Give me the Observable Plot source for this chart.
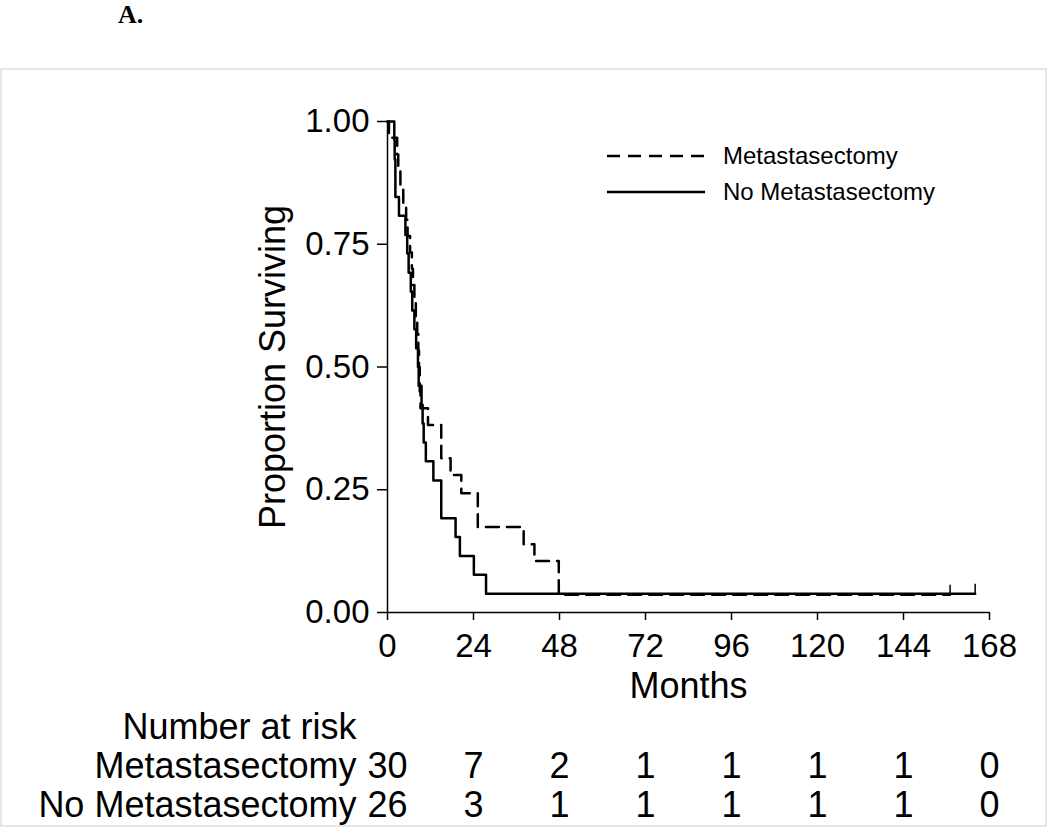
<!DOCTYPE html>
<html>
<head>
<meta charset="utf-8">
<script src="https://cdn.jsdelivr.net/npm/d3@7"></script>
<script src="https://cdn.jsdelivr.net/npm/@observablehq/plot@0.6"></script>
<style>
  html, body { margin: 0; padding: 0; background: #fff; }
  #wrap { position: relative; width: 1050px; height: 832px; overflow: hidden;
          font-family: "Liberation Sans", Arial, sans-serif; color: #000; }
  #panel { position: absolute; left: 118px; top: 1px; font-family: "Liberation Serif", "Times New Roman", serif;
           font-weight: bold; font-size: 26px; line-height: 28px; }
  #frame { position: absolute; left: 0; top: 68px; width: 1047px; height: 759px;
           border: 2px solid #e6e6e6; box-sizing: border-box; z-index: 5; pointer-events: none; }
  #main { position: absolute; left: 0; top: 0; }
  #risk { position: absolute; left: 0; top: 710px; }
  #legend { position: absolute; left: 607px; top: 138px; font-size: 24px; z-index: 3; }
  .lrow { display: flex; align-items: center; height: 36px; }
  .lrow svg { display: block; margin-right: 18px; }
</style>
</head>
<body>
<div id="wrap">
  <div id="panel">A.</div>
  <div id="main"></div>
  <div id="risk"></div>
  <div id="legend"></div>
  <div id="frame"></div>
</div>
<script>
// ---- Data ----
const xTicks = [0, 24, 48, 72, 96, 120, 144, 168];
const yTicks = [0, 0.25, 0.5, 0.75, 1];

const groups = ["Metastasectomy", "No Metastasectomy"];

// Kaplan–Meier step points: Metastasectomy (dashed)
const metTimes = [0, 0.4, 2.7, 3.0, 3.6, 4.4, 5.2, 5.6, 6.3, 6.8, 7.1, 7.5, 7.9, 8.3, 8.6, 8.8, 9.0, 9.2, 11.3, 15.0, 17.6, 20.6, 25.2, 38.0, 41.0, 47.8, 157];
const metSurv  = [1, 0.967, 0.933, 0.9, 0.867, 0.833, 0.8, 0.767, 0.733, 0.7, 0.667, 0.633, 0.6, 0.567, 0.533, 0.5, 0.45, 0.416, 0.382, 0.314, 0.28, 0.243, 0.174, 0.139, 0.105, 0.036, 0.036];

// Kaplan–Meier step points: No Metastasectomy (solid)
const noMetTimes = [0, 1.9, 2.0, 2.2, 3.2, 5.0, 5.5, 5.9, 6.5, 6.9, 7.5, 8.0, 8.5, 8.7, 9.5, 9.8, 10.1, 10.7, 12.8, 15.0, 19.0, 20.2, 24.1, 27.5, 164];
const noMetSurv  = [1, 0.962, 0.923, 0.846, 0.808, 0.769, 0.731, 0.692, 0.654, 0.615, 0.577, 0.538, 0.5, 0.462, 0.423, 0.385, 0.346, 0.308, 0.269, 0.192, 0.154, 0.115, 0.077, 0.038, 0.038];

// Censoring marks (last follow-up)
const censorTimes = [157, 164];
const censorSurv  = [0.036, 0.038];

// Number at risk table
const riskTimes = [0, 24, 48, 72, 96, 120, 144, 168];
const riskMet   = [30, 7, 2, 1, 1, 1, 1, 0];
const riskNoMet = [26, 3, 1, 1, 1, 1, 1, 0];
const riskHeader = "Number at risk";

// ---- Build tables ----
const metData = metTimes.map((t, i) => ({t, s: metSurv[i]}));
const noMetData = noMetTimes.map((t, i) => ({t, s: noMetSurv[i]}));
const censorData = censorTimes.map((t, i) => ({t, s: censorSurv[i]}));
const riskData = [
  ...riskTimes.map((t, i) => ({t, group: groups[0], n: riskMet[i]})),
  ...riskTimes.map((t, i) => ({t, group: groups[1], n: riskNoMet[i]}))
];

const font = "Liberation Sans, Arial, sans-serif";

// custom symbol: vertical censor tick drawn upward
const tickUp = {
  draw(ctx, size) {
    const r = Math.sqrt(size / Math.PI);
    ctx.moveTo(0, 0);
    ctx.lineTo(0, -r);
  }
};

const main = Plot.plot({
  width: 1050,
  height: 710,
  marginLeft: 387,
  marginRight: 61,
  marginTop: 121,
  marginBottom: 98,
  x: {domain: [0, 168]},
  y: {domain: [0, 1]},
  style: {fontFamily: font, color: "#000", background: "transparent", overflow: "visible"},
  marks: [
    Plot.axisX({ticks: xTicks, tickSize: 8, tickPadding: 13, fontSize: 33, label: null, strokeWidth: 1.5}),
    Plot.axisY({ticks: yTicks, tickSize: 10, tickPadding: 8, tickFormat: d3.format(".2f"), fontSize: 33, label: null, strokeWidth: 1.5}),
    Plot.ruleX([0], {strokeWidth: 1.5}),
    Plot.ruleY([0], {strokeWidth: 1.5}),
    Plot.line(noMetData, {x: "t", y: "s", curve: "step-after", stroke: "#000", strokeWidth: 2.5}),
    Plot.line(metData, {x: "t", y: "s", curve: "step-after", stroke: "#000", strokeWidth: 2.5, strokeDasharray: "13,8"}),
    Plot.dot(censorData, {x: "t", y: "s", symbol: tickUp, r: 10, fill: "none", stroke: "#000", strokeWidth: 1.5}),
    Plot.text(["Months"], {frameAnchor: "bottom", lineAnchor: "middle", dy: 74, fontSize: 36, fill: "#000"}),
    Plot.text(["Proportion Surviving"], {frameAnchor: "left", textAnchor: "middle", lineAnchor: "middle", dx: -114, rotate: -90, fontSize: 36, fill: "#000"})
  ]
});
document.getElementById("main").appendChild(main);

const risk = Plot.plot({
  width: 1050,
  height: 122,
  marginLeft: 387,
  marginRight: 61,
  marginTop: 0,
  marginBottom: 0,
  x: {domain: [0, 168], axis: null},
  y: {type: "point", domain: [riskHeader, ...groups], range: [17, 95], padding: 0, axis: null},
  style: {fontFamily: font, color: "#000", background: "transparent", overflow: "visible"},
  marks: [
    Plot.text(riskData, {x: "t", y: "group", text: "n", fontSize: 36, fill: "#000"}),
    Plot.text([riskHeader, ...groups], {y: d => d, text: d => d, frameAnchor: "left", textAnchor: "end", dx: -31, fontSize: 36, fill: "#000"})
  ]
});
document.getElementById("risk").appendChild(risk);

// legend (HTML)
const legend = document.getElementById("legend");
const dashes = ["13,8", null];
groups.forEach((g, i) => {
  const row = document.createElement("div");
  row.className = "lrow";
  const svg = d3.create("svg").attr("width", 98).attr("height", 10);
  svg.append("line").attr("x1", 0).attr("x2", 98).attr("y1", 5).attr("y2", 5)
    .attr("stroke", "#000").attr("stroke-width", 2.5)
    .attr("stroke-dasharray", dashes[i]);
  row.appendChild(svg.node());
  const span = document.createElement("span");
  span.textContent = g;
  row.appendChild(span);
  legend.appendChild(row);
});
</script>
</body>
</html>
